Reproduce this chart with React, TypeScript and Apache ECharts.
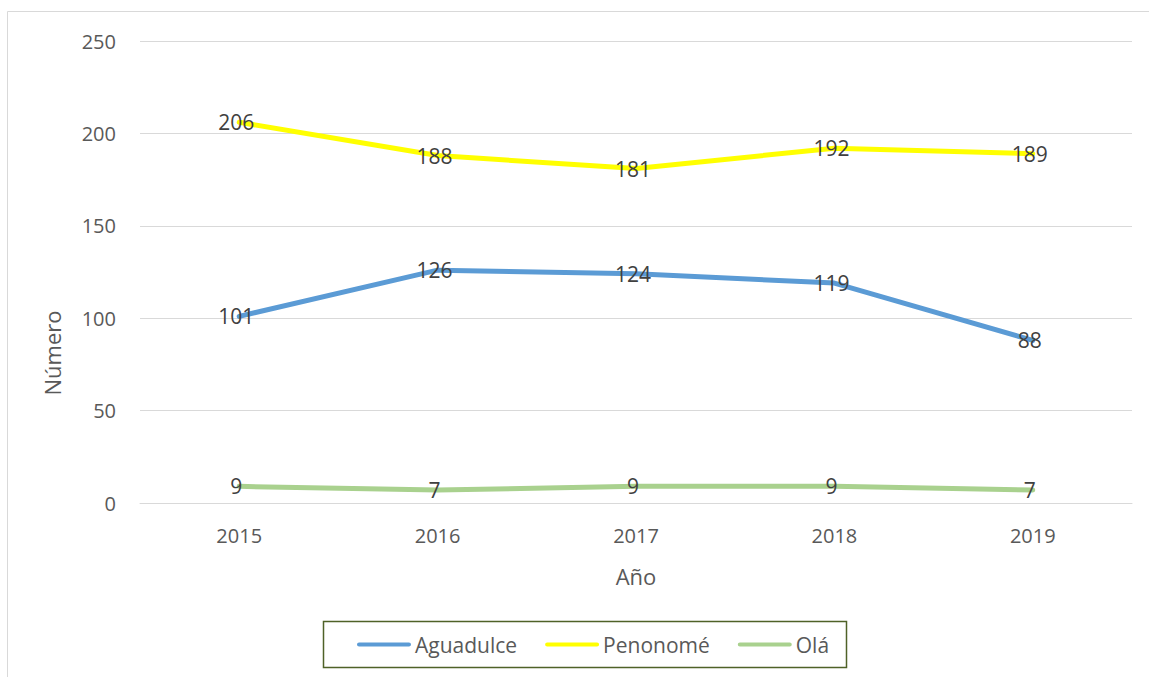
import React, { useEffect, useRef } from "react";
import * as echarts from "echarts";

const years = ["2015", "2016", "2017", "2018", "2019"];
const aguadulce = [101, 126, 124, 119, 88];
const penonome = [206, 188, 181, 192, 189];
const ola = [9, 7, 9, 9, 7];
const seriesNames = ["Aguadulce", "Penonomé", "Olá"];
const seriesColors = ["#5B9BD5", "#FFFF00", "#A9D18E"];
const seriesData = [aguadulce, penonome, ola];

const FONT = "'Open Sans', 'Liberation Sans', sans-serif";

export default function App() {
  const ref = useRef<HTMLDivElement>(null);
  useEffect(() => {
    document.body.style.margin = "0";
    if (!ref.current) return;
    const chart = echarts.init(ref.current, null, { renderer: "svg" });
    const iconPath = "path://M2,0 H50 A2,2 0 0 1 50,4 H2 A2,2 0 0 1 2,0 Z";
    chart.setOption({
      animation: false,
      backgroundColor: "#ffffff",
      textStyle: { fontFamily: FONT },
      grid: { left: 140, right: 17, top: 41, bottom: 174, containLabel: false },
      xAxis: {
        type: "category",
        data: years,
        boundaryGap: true,
        axisLine: { show: true, lineStyle: { color: "#d9d9d9", width: 1 } },
        axisTick: { show: false },
        axisLabel: { color: "#595959", fontSize: 20, margin: 22, fontFamily: FONT },
        name: "Año",
        nameLocation: "middle",
        nameGap: 62,
        nameTextStyle: { color: "#595959", fontSize: 22, fontFamily: FONT },
      },
      yAxis: {
        type: "value",
        min: 0,
        max: 250,
        interval: 50,
        axisLine: { show: false },
        axisTick: { show: false },
        splitLine: { lineStyle: { color: "#d9d9d9", width: 1 } },
        axisLabel: { color: "#595959", fontSize: 20, margin: 24, fontFamily: FONT },
      },
      legend: {
        left: 352,
        top: 629,
        itemWidth: 54,
        itemHeight: 5,
        itemGap: 28,
        icon: iconPath,
        textStyle: { color: "#595959", fontSize: 21, fontFamily: FONT, padding: [0, 0, 0, -1] },
        data: seriesNames.map((n, i) => ({ name: n, itemStyle: { color: seriesColors[i] } })),
      },
      graphic: [
        {
          type: "polyline",
          shape: { points: [[7.5, 677], [7.5, 11.5], [1149, 11.5]] },
          style: { stroke: "#d9d9d9", lineWidth: 1, fill: "none" },
          silent: true,
        },
        {
          type: "rect",
          shape: { x: 323.5, y: 621.5, width: 523, height: 46 },
          style: { stroke: "#4F6228", lineWidth: 1.5, fill: "none" },
          silent: true,
        },
        {
          type: "text",
          x: 52,
          y: 353,
          rotation: Math.PI / 2,
          style: {
            text: "Número",
            fill: "#595959",
            font: `22px ${FONT}`,
            align: "center",
            verticalAlign: "middle",
          },
        },
      ],
      series: seriesNames.map((n, i) => ({
        name: n,
        type: "line",
        data: seriesData[i],
        symbol: "circle",
        symbolSize: 1,
        showSymbol: true,
        lineStyle: { color: seriesColors[i], width: 5, cap: "round", join: "round" },
        itemStyle: { color: seriesColors[i] },
        label: {
          show: true,
          position: "inside",
          offset: [-3, 0],
          color: "#404040",
          fontSize: 21,
          fontFamily: FONT,
        },
        z: 2 + i,
      })),
    });
    return () => chart.dispose();
  }, []);
  return <div ref={ref} style={{ width: 1149, height: 677 }} />;
}
